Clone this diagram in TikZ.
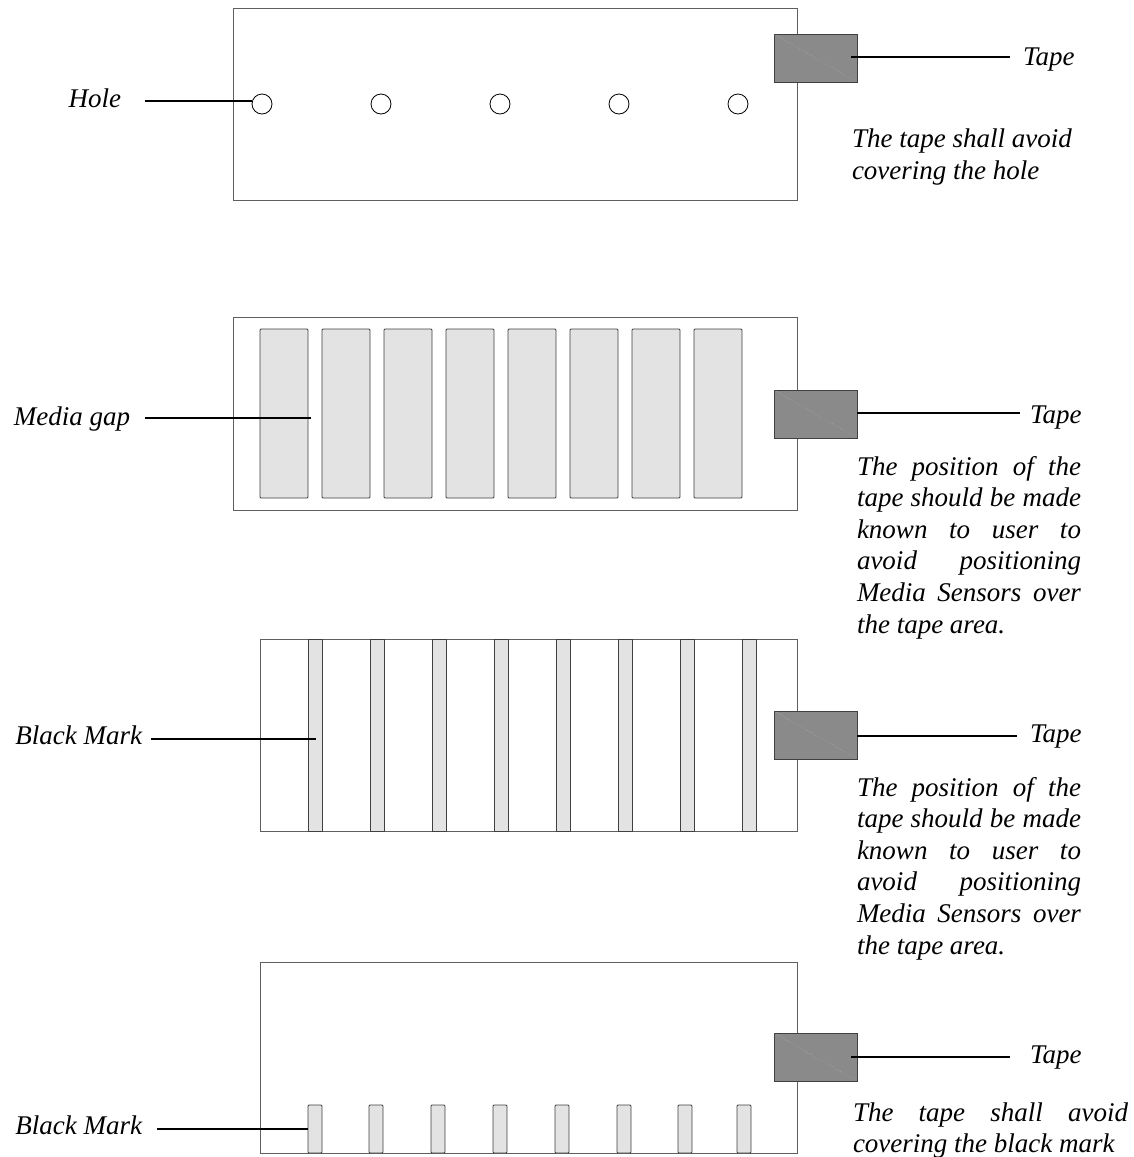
\documentclass[tikz,border=0pt]{standalone}
\usepackage{fontspec}
\setmainfont{Liberation Serif}
\usetikzlibrary{positioning}

\definecolor{tapegray}{RGB}{138,138,138}
\definecolor{gapgray}{RGB}{227,227,227}
\definecolor{edgegray}{RGB}{95,95,95}

\tikzset{
  panel/.style={rectangle,draw=edgegray,line width=1pt,inner sep=0pt,outer sep=0pt,anchor=north west},
  tapebox/.style={rectangle,draw=black!75,fill=tapegray,line width=1pt,minimum width=83pt,minimum height=48pt,inner sep=0pt,outer sep=0pt,anchor=north west},
  gapbox/.style={rectangle,rounded corners=1pt,draw=black!75,fill=gapgray,line width=0.9pt,inner sep=0pt,outer sep=0pt,anchor=north west},
  hole/.style={circle,draw=black,line width=0.8pt,minimum size=20pt,inner sep=0pt,outer sep=0pt},
  leader/.style={black,line width=1.8pt},
  sheen/.style={white!50!tapegray,line width=0.4pt,dotted},
  lbl/.style={font=\fontsize{27}{31.6}\selectfont\itshape,inner sep=0pt,outer sep=0pt},
  note/.style={lbl,text width=#1,align=justify,anchor=base west}
}

\begin{document}
\begin{tikzpicture}[x=1pt,y=-1pt]
  \useasboundingbox (0,0) rectangle (1134,1157);

  % hole media
  \node[panel,minimum width=564pt,minimum height=192pt] (p1) at (233,8) {};
  \foreach \i in {0,...,4}
    \node[hole] (hole\i) at (262+119*\i,104) {};
  \node[tapebox] (tp1) at (774,34) {};
  \draw[sheen] (tp1.north west) -- (tp1.south east);
  \node[lbl,anchor=base east] (holetxt) at (121,107) {Hole};
  \coordinate (hl) at (145,101);
  \draw[leader] (hl) -- (hl -| hole0.west);
  \coordinate (t1s) at (851,57);
  \coordinate (t1e) at (1010,57);
  \draw[leader] (t1s) -- (t1e);
  \node[lbl,anchor=base west] (tape1) at (1023,65) {Tape};
  \node[lbl,align=left,anchor=base west] (note1) at (852,179) {The tape shall avoid\\covering the hole};

  % media gap
  \node[panel,minimum width=564pt,minimum height=193pt] (p2) at (233,317) {};
  \foreach \i in {0,...,7}
    \node[gapbox,minimum width=48pt,minimum height=169pt] (gap\i) at (260+62*\i,329) {};
  \node[tapebox] (tp2) at (774,390) {};
  \draw[sheen] (tp2.north west) -- (tp2.south east);
  \node[lbl,anchor=base east] (gaptxt) at (130,425) {Media gap};
  \coordinate (gl) at (145,418);
  \draw[leader] (gl) -- ([xshift=3pt]gl -| gap0.east);
  \coordinate (t2e) at (1020,413);
  \draw[leader] (tp2.east |- t2e) -- (t2e);
  \node[lbl,anchor=base west] (tape2) at (1030,423) {Tape};
  \node[note=224pt] (note2) at (857,475) {The position of the\linebreak
    tape should be made\linebreak known to user to\linebreak avoid positioning\linebreak
    Media Sensors over\linebreak the tape area.};

  % black mark, full width
  \node[panel,minimum width=537pt,minimum height=192pt] (p3) at (260,639) {};
  \foreach \i in {0,...,7}
    \node[gapbox,rounded corners=0pt,minimum width=14pt,minimum height=192pt] (bar\i) at (308+62*\i,639) {};
  \node[tapebox] (tp3) at (774,711) {};
  \draw[sheen] (tp3.north west) -- (tp3.south east);
  \node[lbl,anchor=base east] (bartxt) at (142,744) {Black Mark};
  \coordinate (bl) at (151,739);
  \draw[leader] (bl) -- ([xshift=8pt]bl -| bar0.west);
  \coordinate (t3e) at (1017,736);
  \draw[leader] (tp3.east |- t3e) -- (t3e);
  \node[lbl,anchor=base west] (tape3) at (1030,742) {Tape};
  \node[note=224pt] (note3) at (857,796) {The position of the\linebreak
    tape should be made\linebreak known to user to\linebreak avoid positioning\linebreak
    Media Sensors over\linebreak the tape area.};

  % black mark, short
  \node[panel,minimum width=537pt,minimum height=191pt] (p4) at (260,962) {};
  \foreach \x [count=\i] in {308,369,431,493,555,617,678,737}
    \node[gapbox,minimum width=14pt,minimum height=48pt] (mark\i) at (\x,1105) {};
  \node[tapebox] (tp4) at (774,1033) {};
  \draw[sheen] (tp4.north west) -- (tp4.south east);
  \node[lbl,anchor=base east] (marktxt) at (142,1134) {Black Mark};
  \coordinate (ml) at (157,1129);
  \draw[leader] (ml) -- (ml -| mark1.west);
  \coordinate (t4s) at (851,1057);
  \coordinate (t4e) at (1010,1057);
  \draw[leader] (t4s) -- (t4e);
  \node[lbl,anchor=base west] (tape4) at (1030,1063) {Tape};
  \node[note=275pt] (note4) at (853,1121) {\parfillskip=0pt
    The tape shall avoid\linebreak covering the black mark};
\end{tikzpicture}
\end{document}
